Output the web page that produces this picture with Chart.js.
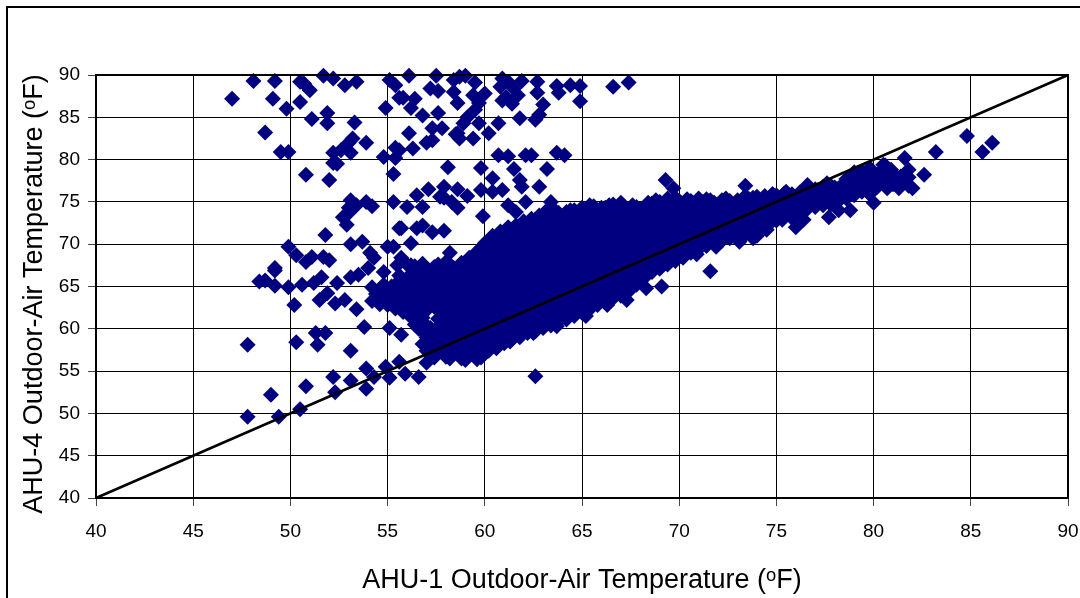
<!DOCTYPE html>
<html>
<head>
<meta charset="utf-8">
<title>AHU-1 vs AHU-4 outdoor-air temperature</title>
<script src="https://cdn.jsdelivr.net/npm/chart.js@4"></script>
<style>
    html, body { margin: 0; padding: 0; background: #fff; overflow: hidden; }
    #wrap { position: relative; width: 1080px; height: 598px; }
    #frame { position: absolute; left: 6px; top: 6px; width: 1080px; height: 600px; border-left: 2px solid #000; border-top: 2px solid #000; }
    #myChart { position: absolute; left: 0; top: 0; }
</style>
</head>
<body>
<div id="wrap">
    <div id="frame"></div>
    <canvas id="myChart" width="1080" height="598"></canvas>
</div>
<script>
var tickValues = [40, 45, 50, 55, 60, 65, 70, 75, 80, 85, 90];
var xTitle = "AHU-1 Outdoor-Air Temperature (\u1D52F)";
// the trailing spaces nudge the rotated title down to where the reference has it
var yTitle = "AHU-4 Outdoor-Air Temperature (\u1D52F)  ";

// 1:1 reference line
var equalLine = [[40, 40], [90, 90]];

// scattered points above the main cloud, [AHU-1, AHU-4]
var upperPoints = [
    [47,87.2],[48.1,89.3],[49.2,89.3],[49.1,87.2],[49.8,86],[48.7,83.2],[49.5,80.9],[49.9,80.9],
    [50.5,89.2],[50.7,89],[51,88.2],[50.5,86.8],[51.1,84.8],[50.8,78.2],[51.7,89.9],[52.2,89.6],
    [52.8,88.8],[53.4,89.2],[51.9,85.5],[51.9,84.3],[53.3,84.4],[53.2,82.5],[53,82],[53.9,82],
    [52.2,80.8],[52.6,81.1],[53.1,80.8],[52.2,79.6],[52.4,79.5],[52,77.6],[54.8,80.3],[55.4,80.2],
    [55.4,81.4],[54.9,86.1],[55.1,89.4],[55.4,88.8],[55.6,87.3],[55.3,78.3],[55.3,75],[53.1,75.2],
    [53.4,74.6],[53,74.3],[53,73.7],[52.7,73.2],[52.9,72.3],[53.9,75],[54.2,74.5],
    [56.1,89.9],[57.5,89.9],[57.2,88.4],[57.6,88.1],[58.4,89.4],[58.7,89.8],[59,89.9],[59.5,89.1],
    [58.4,88],[58.6,86.7],[59.4,87.6],[60,87.8],[59.7,86.7],[59.5,85.9],[59.1,85],[58.9,84.3],
    [58.6,83.1],[58.7,82.5],[59.4,82.5],[59.7,84.3],[60.2,83.1],[60.7,84.3],[61.8,84.9],[62.6,84.7],
    [62.8,85.3],[63,86.5],[62.7,87.9],[62.7,89.2],[60.9,89.6],[61.2,89.2],[61.9,89.3],[60.8,88.6],
    [61.5,88.4],[61.7,87.6],[60.9,87],[61.4,86.6],[61.1,87.4],[63.7,88.7],[63.8,87.9],[64.4,88.8],
    [64.9,88.7],[64.9,86.9],[66.6,88.6],[67.4,89.1],[56.4,87.2],[55.8,87.3],[56.2,86.1],[56.8,85.2],
    [57.6,85.5],[57.3,83.7],[57.8,83.7],[58.5,83],[56.1,83.1],[56.3,81.3],[57,82],[57.3,82.3],[55.6,81.1],
    [60.7,80.5],[61.2,80.4],[62.1,80.5],[62.4,80.5],[63.7,80.8],[64.1,80.5],[58.1,79.1],[59.8,79],
    [61.5,78.9],[63.2,78.9],[60.4,77.8],[61.8,77.6],[61.9,76.8],[62.8,76.8],[57.1,76.5],[56.5,75.8],
    [57.9,76.8],[58.6,76.5],[57.7,75.6],[57.9,75.5],[59.1,75.7],[58.3,75],[58.6,74.3],[59.8,76.4],
    [60.4,76.2],[60.9,76.4],[61.2,74.6],[61.6,73.8],[62.1,75],[63.4,75],[56,74.4],[56.8,74.4],[59.9,73.3],
    [55.7,71.9],[56.5,71.9],[56.8,72.2],[57.3,71.4],[57.9,71.6],[56.2,70.1],[58.2,69]
];

// scattered points left of and below the main cloud
var leftPoints = [
    [51.8,71.1],[55.6,71.9],[49.9,69.7],[50.3,68.7],[50.8,67.9],[51.1,68.5],[51.7,68.5],[52,68.1],
    [53.1,70],[53.7,70.3],[54.1,69],[54.3,68.4],[54,67.2],[54.8,66.7],[55,69.7],[55.3,69.7],[55.7,68.4],
    [55.5,67.5],[49.2,67.2],[49.2,66.9],[48.4,65.6],[48.7,65.7],[49.2,65.1],[49.9,64.9],[50.6,65.2],
    [51.2,65.4],[51.6,66.1],[52.4,65.4],[53.1,66.1],[53.5,66.4],[51.9,64.2],[51.5,63.4],[52.3,63],
    [52.8,63.4],[50.2,62.8],[53.4,62.3],[53.8,60.2],[55.1,60.1],[55.7,59.3],[47.8,58.1],[50.3,58.4],
    [51.3,59.5],[51.8,59.5],[51.4,58.1],[53.1,57.4],[52.2,54.3],[53.1,53.9],[52.3,52.5],[50.8,53.2],
    [49,52.2],[47.8,49.6],[49.4,49.6],[50.5,50.5],[53.9,55.3],[54.3,54.3],[53.9,52.9],[54.9,55.5],
    [55.1,54.2],[55.6,56.1],[55.9,54.7],[56.6,54.3],[57,56],[62.6,54.4]
];

// lone points on the right and lower edge of the band
var rightPoints = [
    [84.8,82.8],[86.1,82],[85.6,80.9],[83.2,80.9],[82.6,78.2],[81.6,80.2],[81.8,78.8],[80.5,79.4],
    [80.9,78.8],[79.8,79],[79,78.5],[80,74.9],[82,76.6],[81.3,76.6],[80.7,76.6],[79.9,76.2],[79.3,76.6],
    [78.8,74],[78.2,74],[77.7,73.2],[76,72],[76.4,72.9],[74.5,71.7],[73.8,70.7],[73.1,70.3],[73.4,76.9],
    [74.8,75.9],[75.5,76.2],[76.6,77],[77.6,77.2],[78.2,76.6],[69.3,77.6],[69.7,76.6],[68.3,64.8],
    [69.1,65],[71.6,66.8],[70.9,68.8],[71.9,69.7],[73.1,70.4],[74,71],[75.3,72.9],[67.3,63.4],[66.3,62.8],
    [65.2,61.5],[63.7,60.3],[62.5,59.5],[61.3,58.5]
];

// dense band, one row per AHU-1 reading: first value is AHU-1, the rest AHU-4
var coreRows = [
    [54.2,63.3,64.9],
    [54.6,62.9,64.5],
    [55.0,62.8,64.3],
    [55.4,62.4,64,65.2],
    [55.8,62,63.7,65.4],
    [56.2,61.4,63,64.7,66.3,67.5],
    [56.6,60,61.7,63.4,65,66.7],
    [57.0,57.4,59,60.4,62.2,63.8,65.5,67],
    [57.4,56.6,58.2,59.8,62.6,64.3,66,67.3],
    [57.8,57.3,59,60.5,62,63.6,65.2,66.8],
    [58.2,56.5,58.1,59.8,61.4,63,64.6,66.3,67.6],
    [58.6,57.1,58.8,60.4,62,63.7,65.3,66.9],
    [59.0,56.3,58,59.6,61.2,62.8,64.5,66.1,67.7],
    [59.4,57,58.6,60.2,61.9,63.5,65.1,66.8,68.3],
    [59.8,56.6,58.2,59.9,61.5,63.1,64.8,66.4,68,69.5],
    [60.2,57.4,59,60.6,62.3,63.9,65.5,67.1,68.8,70.3],
    [60.6,57.7,59.3,61,62.6,64.2,65.9,67.5,69.1,70.8],
    [61.0,58.3,60,61.6,63.2,64.9,66.5,68.1,69.8,71.4],
    [61.4,58.8,60.4,62,63.7,65.3,66.9,68.6,70.2,71.7],
    [61.8,59,60.7,62.3,63.9,65.6,67.2,68.8,70.5,72],
    [62.2,59.5,61.1,62.8,64.4,66,67.7,69.3,70.9,72.4],
    [62.6,59.7,61.4,63,64.6,66.3,67.9,69.5,71.2,72.9],
    [63.0,60.1,61.8,63.4,65,66.7,68.3,69.9,71.6,73.2],
    [63.4,60.4,62.1,63.7,65.3,67,68.6,70.2,71.9,73.6],
    [63.8,60.9,62.5,64.1,65.8,67.4,69,70.7,72.3,73.7],
    [64.2,61.1,62.8,64.4,66,67.7,69.3,70.9,72.6,73.8],
    [64.6,61.5,63.1,64.8,66.4,68,69.7,71.3,72.9,74],
    [65.0,61.9,63.5,65.1,66.8,68.4,70,71.7,73.2,74.3],
    [65.4,62.3,63.9,65.5,67.2,68.8,70.4,72.1,73.6,74.6],
    [65.8,62.8,64.4,66,67.6,69.2,70.9,72.5,73.9],
    [66.2,63.1,64.7,66.3,68,69.6,71.2,72.9,74.3],
    [66.6,63.6,65.2,66.8,68.5,70.1,71.7,73.3,74.7],
    [67.0,63.9,65.5,67.1,68.8,70.4,72,73.7,74.9],
    [67.4,64.4,66,67.6,69.3,70.9,72.5,74.1],
    [67.8,65.2,66.8,68.5,70.1,71.7,73.3,74.4],
    [68.2,66,67.6,69.2,70.9,72.5,74.1],
    [68.6,66.7,68.3,69.9,71.6,73.2,74.8],
    [69.0,67.1,68.8,70.4,72,73.7,75],
    [69.4,67.6,69.2,70.8,72.5,74.1,75.4],
    [69.8,68,69.6,71.3,72.9,74.5,75.5],
    [70.2,68.4,70,71.7,73.3,74.8],
    [70.6,69,70.6,72.2,73.8,75.1],
    [71.0,69.4,71,72.6,74.2,75.4],
    [71.4,69.8,71.4,73,74.7,75.3],
    [71.8,70.1,71.7,73.3,74.9],
    [72.2,70.4,72,73.6,75.2],
    [72.6,70.7,72.3,73.9,75.1],
    [73.0,71,72.6,74.2,75.2],
    [73.4,71.3,72.9,74.5,75.7],
    [73.8,71.6,73.2,74.8,75.5],
    [74.2,71.9,73.5,75.1],
    [74.6,72.3,73.9,75.3],
    [75.0,72.8,74.4,75.8],
    [75.4,73.2,74.8,76],
    [75.8,73.1,74.7,75.9],
    [76.2,73.7,75.2,76.1],
    [76.6,74.2,75.6,76.6],
    [77.0,74.4,75.8,76.5],
    [77.4,74.6,76,76.8],
    [77.8,74.7,76.1,76.9],
    [78.2,75.1,76.4],
    [78.6,75.4,76.8,77.7],
    [79.0,75.8,77.2],
    [79.4,76.2,77.6,78.6],
    [79.8,75.9,77.3,78.5],
    [80.2,76.8,78.2],
    [80.6,76.9,78.1,79.3],
    [81.0,77.1,78.4],
    [81.4,77,78],
    [81.8,76.9,77.9]
];

// more readings in the band, they fill the gaps between the rows above
var fillRows = [
    [54.4,64.1],
    [54.8,63.6,65.2],
    [55.2,63.5,65],
    [55.6,63.2,64.8,66.3],
    [56.0,62.7,64.4,66,67.6],
    [56.4,60.5,62.2,63.9,65.6,67.4],
    [56.8,58.2,59.8,61.3,62.8,64.6,66.2,67.7],
    [57.2,57,58.6,60.1,63.3,65.1,66.7],
    [57.6,57.7,59.4,61.2,63.1,64.8,66.5,67.6],
    [58.0,56.7,58.4,60,61.6,63.2,64.9,66.5,67.9],
    [58.4,57.4,59,60.7,62.3,63.9,65.6,67.2],
    [58.8,56.5,58,59.7,61.3,62.9,64.6,66.2,67.8],
    [59.2,57.2,58.9,60.5,62.1,63.7,65.4,67,68.4],
    [59.6,56.4,57.9,59.5,61.1,62.8,64.4,66,67.7,69.1],
    [60.0,57.1,58.7,60.3,62,63.6,65.2,66.9,68.5,70.1],
    [60.4,58.2,59.8,61.4,63.1,64.7,66.3,68,69.6,71],
    [60.8,58.5,60.1,61.8,63.4,65,66.7,68.3,69.9,71.5],
    [61.2,59.1,60.8,62.4,64,65.7,67.3,68.9,70.6,72],
    [61.6,59.6,61.2,62.8,64.5,66.1,67.7,69.4,71,72.2],
    [62.0,59.8,61.5,63.1,64.7,66.4,68,69.6,71.3,72.7],
    [62.4,60.3,61.9,63.6,65.2,66.8,68.5,70.1,71.7,73],
    [62.8,60.5,62.2,63.8,65.4,67.1,68.7,70.3,72,73.4],
    [63.2,60.9,62.6,64.2,65.8,67.5,69.1,70.7,72.4,74],
    [63.6,61.2,62.9,64.5,66.1,67.8,69.4,71,72.7,74],
    [64.0,61.7,63.3,64.9,66.6,68.2,69.8,71.5,73.1],
    [64.4,61.9,63.6,65.2,66.8,68.5,70.1,71.7,73.3,74],
    [64.8,62.3,63.9,65.6,67.2,68.8,70.5,72.1,73.6],
    [65.2,62.7,64.3,65.9,67.6,69.2,70.8,72.5,74],
    [65.6,63.1,64.7,66.3,68,69.6,71.2,72.9,74.5],
    [66.0,63.6,65.2,66.8,68.4,70,71.7,73.3,74.3],
    [66.4,63.9,65.5,67.1,68.8,70.4,72,73.7,74.6],
    [66.8,64.4,66,67.6,69.3,70.9,72.5,74.1],
    [67.2,64.7,66.3,67.9,69.6,71.2,72.8,74.4],
    [67.6,65.2,66.8,68.4,70.1,71.7,73.3,74.6],
    [68.0,66,67.6,69.3,70.9,72.5,74.1],
    [68.4,66.8,68.4,70,71.7,73.3,74.9],
    [68.8,67.5,69.1,70.7,72.4,74,75.2],
    [69.2,67.9,69.6,71.2,72.8,74.5],
    [69.6,68.4,70,71.6,73.3,74.9],
    [70.0,68.8,70.4,72.1,73.7,75.1],
    [70.4,69.2,70.8,72.5,74.1,75.3],
    [70.8,69.8,71.4,73,74.6],
    [71.2,70.2,71.8,73.4,75],
    [71.6,70.6,72.2,73.8,75.2],
    [72.0,70.9,72.5,74.1],
    [72.4,71.2,72.8,74.4,75.4],
    [72.8,71.5,73.1,74.7],
    [73.2,71.8,73.4,75],
    [73.6,72.1,73.7,75.3],
    [74.0,72.4,74,75.6],
    [74.4,72.7,74.3,75.7],
    [74.8,73.1,74.7,75.9],
    [75.2,73.6,75.2],
    [75.6,73.9,75.4],
    [76.0,73.9,75.5],
    [76.4,74.5,75.9],
    [76.8,75,76.3],
    [77.2,75.2,76.4],
    [77.6,75.4,76.5],
    [78.0,75.6,76.7],
    [78.4,75.8,77],
    [78.8,76.2,77.5],
    [79.2,76.6,77.9],
    [79.6,76.7,78.2],
    [80.0,76.5,77.8],
    [80.4,77.4,78.6],
    [80.8,77.5,78.7],
    [81.2,77.5]
];

function pairsToPoints(pairs) {
    return pairs.map(function (p) { return { x: p[0], y: p[1] }; });
}

function rowsToPoints(rows) {
    var out = [];
    rows.forEach(function (r) {
        for (var i = 1; i < r.length; i++) {
            out.push({ x: r[0], y: r[i] });
        }
    });
    return out;
}

var allPoints = pairsToPoints(upperPoints)
    .concat(pairsToPoints(leftPoints))
    .concat(pairsToPoints(rightPoints))
    .concat(rowsToPoints(coreRows))
    .concat(rowsToPoints(fillRows));

var fontFamily = "'Liberation Sans', 'DejaVu Sans', Arial, sans-serif";

function axisOptions(titleText, titlePadding) {
    return {
        type: 'linear',
        min: 40,
        max: 90,
        afterBuildTicks: function (scale) {
            scale.ticks = tickValues.map(function (v) { return { value: v }; });
        },
        border: { color: '#000', width: 2 },
        grid: {
            color: '#000',
            lineWidth: 1,
            borderDash: [1, 1],
            tickLength: 8,
            tickColor: '#444',
            tickBorderDash: [],
            drawTicks: true
        },
        ticks: {
            color: '#000',
            font: { family: fontFamily, size: 19 },
            maxRotation: 0,
            autoSkip: false,
            includeBounds: true
        },
        title: {
            display: true,
            text: titleText,
            color: '#000',
            font: { family: fontFamily, size: 27 },
            padding: titlePadding
        }
    };
}

// top and right edge of the plot area
var plotFrame = {
    id: 'plotFrame',
    afterDatasetsDraw: function (chart) {
        var a = chart.chartArea;
        var ctx = chart.ctx;
        ctx.save();
        ctx.strokeStyle = '#000';
        ctx.lineWidth = 2;
        ctx.beginPath();
        ctx.moveTo(a.left, a.top);
        ctx.lineTo(a.right, a.top);
        ctx.lineTo(a.right, a.bottom);
        ctx.stroke();
        ctx.restore();
    }
};

var xAxis = axisOptions(xTitle, { top: 0, bottom: 1 });
xAxis.ticks.padding = 14;
xAxis.afterFit = function (scale) {
    scale.height = 100;
    // the "90" label may hang over the plot edge, it needs no extra room
    scale.paddingRight = 0;
};

var yAxis = axisOptions(yTitle, { top: 18, bottom: 0 });
yAxis.ticks.padding = 8;
yAxis.afterFit = function (scale) { scale.width = 96; };

var ctx = document.getElementById('myChart').getContext('2d');
var chart = new Chart(ctx, {
    type: 'scatter',
    data: {
        datasets: [
            {
                label: 'Equal temperature',
                data: pairsToPoints(equalLine),
                showLine: true,
                borderColor: '#000',
                borderWidth: 2.5,
                pointRadius: 0,
                clip: false
            },
            {
                label: 'AHU-4 vs AHU-1',
                data: allPoints,
                backgroundColor: '#000080',
                borderColor: '#000080',
                borderWidth: 0,
                pointStyle: 'rectRot',
                pointRadius: 8,
                clip: false
            }
        ]
    },
    options: {
        responsive: false,
        animation: false,
        layout: { autoPadding: false, padding: { top: 75, right: 12, bottom: 0, left: 0 } },
        plugins: {
            legend: { display: false },
            tooltip: { enabled: false }
        },
        scales: { x: xAxis, y: yAxis }
    },
    plugins: [plotFrame]
});
</script>
</body>
</html>
